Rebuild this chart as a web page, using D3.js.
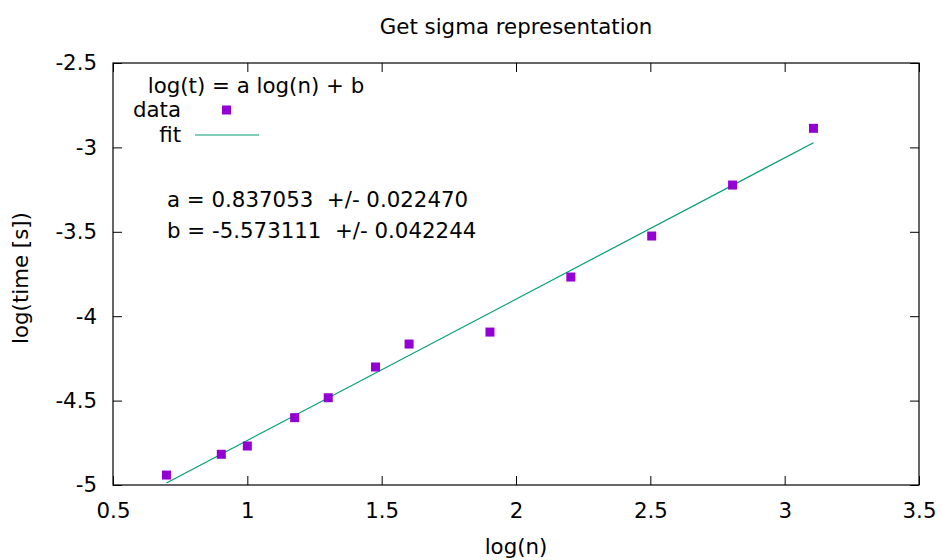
<!DOCTYPE html>
<html>
<head>
<meta charset="utf-8">
<script src="https://cdn.jsdelivr.net/npm/d3@7"></script>
<style>
  body { margin: 0; background: #fff; }
  .chart { width: 941px; height: 560px; }
  text { font-family: "DejaVu Sans", sans-serif; font-size: 21.33px; fill: #000; }
  .axis path { display: none; }
  .axis line { stroke: #000; stroke-width: 1; }
</style>
</head>
<body>
<div class="chart"></div>
<script>
//data: x = log10(n), y = log10(time)
let logN = [0.69897, 0.90309, 1.0, 1.17609, 1.30103, 1.47712, 1.60206, 1.90309, 2.20412, 2.50515, 2.80618, 3.10721];
let logT = [-4.941, -4.818, -4.769, -4.601, -4.483, -4.301, -4.165, -4.094, -3.768, -3.525, -3.223, -2.887];

//fit parameters
let fitA = 0.837053;
let fitB = -5.573111;
let fitLabels = ["a = 0.837053  +/- 0.022470", "b = -5.573111  +/- 0.042244"];

let xTicks = [0.5, 1, 1.5, 2, 2.5, 3, 3.5];
let yTicks = [-2.5, -3, -3.5, -4, -4.5, -5];

let chart = {};

init();

function init() {
    setDimensions();
    setScales();
    appendElements();
}

function setDimensions() {
    chart.margin = { top: 63, right: 22, bottom: 75, left: 113 };
    chart.width = 941 - chart.margin.left - chart.margin.right;
    chart.height = 560 - chart.margin.top - chart.margin.bottom;
}

function setScales() {
    chart.xScale = d3.scaleLinear()
        .range([0, chart.width])
        .domain([0.5, 3.5]);

    chart.yScale = d3.scaleLinear()
        .range([chart.height, 0])
        .domain([-5, -2.5]);
}

function appendElements() {
    chart.svg = d3.select(".chart").append("svg")
        .attr("width", 941)
        .attr("height", 560);

    chart.svg.append("rect")
        .attr("width", 941).attr("height", 560).attr("fill", "#fff");

    chart.plot = chart.svg.append("g")
        .attr("transform", `translate(${chart.margin.left},${chart.margin.top})`);

    //plain hyphen for negatives, like gnuplot
    let fmt = d => String(d);

    //ticks point inward, like gnuplot, and are mirrored on top and right
    chart.plot.append("g").attr("class", "axis")
        .attr("transform", `translate(0,${chart.height})`)
        .call(d3.axisBottom(chart.xScale).tickValues(xTicks).tickFormat(fmt)
            .tickSize(-9).tickPadding(18));

    chart.plot.append("g").attr("class", "axis")
        .call(d3.axisTop(chart.xScale).tickValues(xTicks).tickFormat("")
            .tickSize(-9));

    chart.plot.append("g").attr("class", "axis")
        .call(d3.axisLeft(chart.yScale).tickValues(yTicks).tickFormat(fmt)
            .tickSize(-9).tickPadding(16));

    chart.plot.append("g").attr("class", "axis")
        .attr("transform", `translate(${chart.width},0)`)
        .call(d3.axisRight(chart.yScale).tickValues(yTicks).tickFormat("")
            .tickSize(-9));

    chart.plot.selectAll(".axis text").attr("font-size", null).attr("font-family", null);

    chart.plot.append("rect")
        .attr("width", chart.width)
        .attr("height", chart.height)
        .attr("fill", "none")
        .attr("stroke", "#000")
        .attr("stroke-width", 1.2);

    //fit line over the range of the data
    let xExtent = d3.extent(logN);
    let line = d3.line()
        .x(d => chart.xScale(d))
        .y(d => chart.yScale(fitA * d + fitB));

    chart.plot.append("path")
        .datum(xExtent)
        .attr("d", line)
        .attr("fill", "none")
        .attr("stroke", "#009e73")
        .attr("stroke-width", 1.2);

    //data points
    chart.plot.selectAll(".pt")
        .data(logN)
        .enter().append("rect")
        .attr("class", "pt")
        .attr("x", (d, i) => chart.xScale(d) - 4.5)
        .attr("y", (d, i) => chart.yScale(logT[i]) - 4.5)
        .attr("width", 9)
        .attr("height", 9)
        .attr("fill", "#9400d3");

    //fit annotation
    chart.svg.selectAll(".fitlab")
        .data(fitLabels)
        .enter().append("text")
        .attr("class", "fitlab")
        .attr("x", 167)
        .attr("y", (d, i) => 207 + i * 31)
        .style("white-space", "pre")
        .text(d => d);

    //key
    let key = chart.svg.append("g");
    key.append("text").attr("x", 256).attr("y", 93)
        .attr("text-anchor", "middle").text("log(t) = a log(n) + b");
    key.append("text").attr("x", 181).attr("y", 117)
        .attr("text-anchor", "end").text("data");
    key.append("rect").attr("x", 222).attr("y", 105.5)
        .attr("width", 9).attr("height", 9).attr("fill", "#9400d3");
    key.append("text").attr("x", 181).attr("y", 142)
        .attr("text-anchor", "end").text("fit");
    key.append("line").attr("x1", 195).attr("x2", 259)
        .attr("y1", 135).attr("y2", 135)
        .attr("stroke", "#009e73").attr("stroke-width", 1.2);

    //titles
    chart.svg.append("text").attr("x", 516).attr("y", 34)
        .attr("text-anchor", "middle").text("Get sigma representation");

    chart.svg.append("text").attr("x", 516).attr("y", 554)
        .attr("text-anchor", "middle").text("log(n)");

    chart.svg.append("text")
        .attr("transform", "translate(28,278) rotate(-90)")
        .attr("text-anchor", "middle").text("log(time [s])");
}
</script>
</body>
</html>
